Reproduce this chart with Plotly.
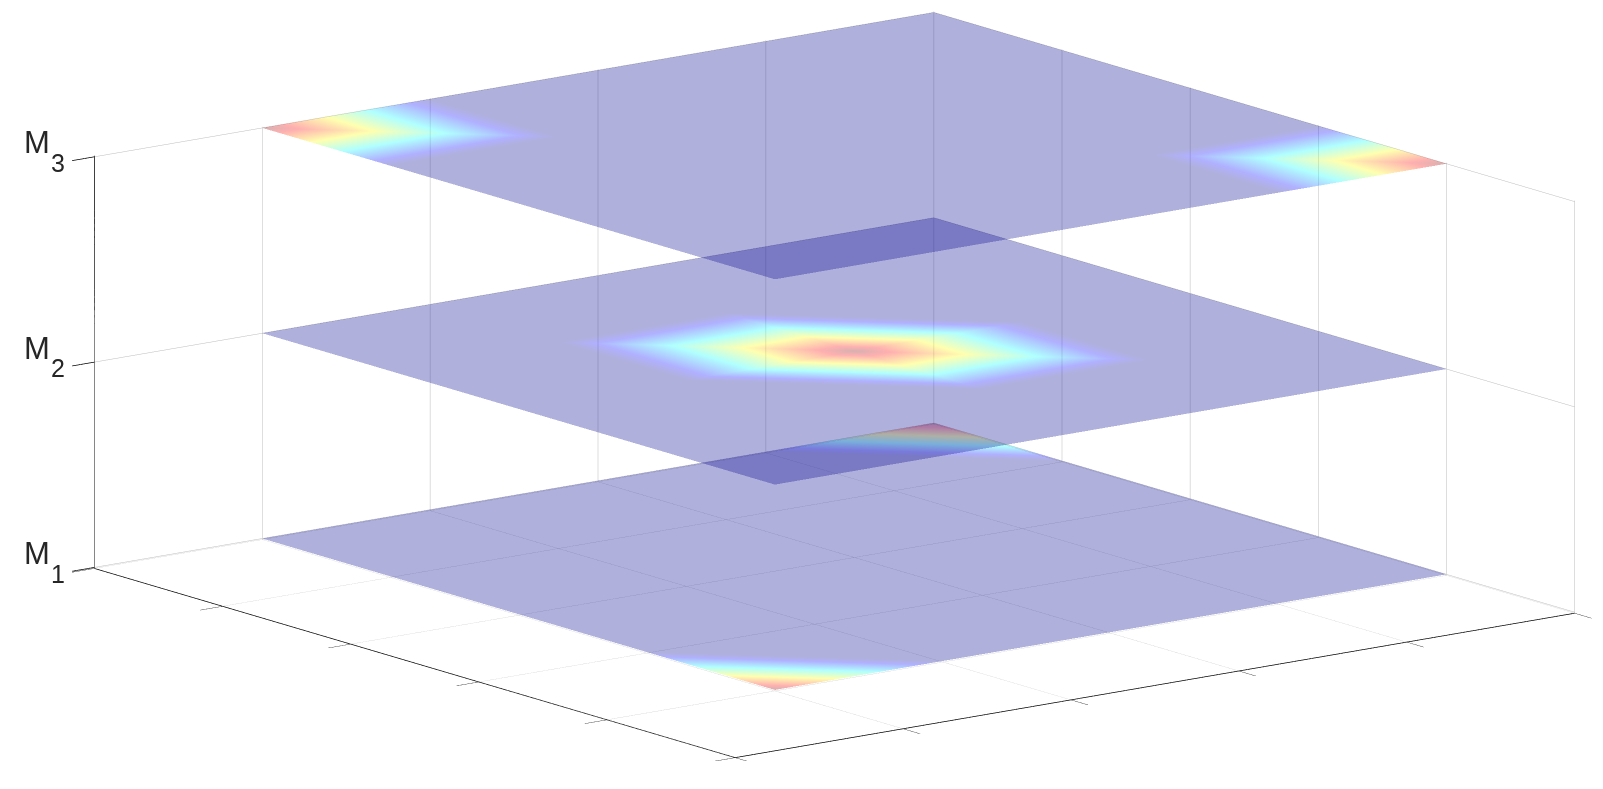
import plotly.graph_objects as go

# vertices of the 5x5 mesh
x_grid = [0, 1, 2, 3, 4]
y_grid = [1, 2, 3, 4, 5]
levels = [1, 2, 3]

# value per (x, y) vertex on each plane, rows are y
m1_values = [
    [0, 0, 0, 0, 1],
    [0, 0, 0, 0, 0],
    [0, 0, 0, 0, 0],
    [0, 0, 0, 0, 0],
    [1, 0, 0, 0, 0],
]
m2_values = [
    [0, 0, 0, 0, 0],
    [0, 0, 0, 0, 0],
    [0, 0, 1, 0, 0],
    [0, 0, 0, 0, 0],
    [0, 0, 0, 0, 0],
]
m3_values = [
    [1, 0, 0, 0, 0],
    [0, 0, 0, 0, 0],
    [0, 0, 0, 0, 0],
    [0, 0, 0, 0, 0],
    [0, 0, 0, 0, 1],
]
plane_values = [m1_values, m2_values, m3_values]

z_labels = ["1", "2", "3"]
xy_ticks = [0, 1, 2, 3, 4, 5]

jet = [
    [0.0, "rgb(0,0,143)"],
    [0.125, "rgb(0,0,255)"],
    [0.375, "rgb(0,255,255)"],
    [0.625, "rgb(255,255,0)"],
    [0.875, "rgb(255,0,0)"],
    [1.0, "rgb(128,0,0)"],
]

fig = go.Figure()

for level, values in zip(levels, plane_values):
    xs, ys, zs, vals = [], [], [], []
    for row, y in zip(values, y_grid):
        for v, x in zip(row, x_grid):
            xs.append(x)
            ys.append(y)
            zs.append(level)
            vals.append(v)
    i, j, k = [], [], []
    n = len(x_grid)
    for r in range(n - 1):
        for c in range(n - 1):
            a = r * n + c
            i += [a, a]
            j += [a + 1, a + n + 1]
            k += [a + n + 1, a + n]
    fig.add_trace(
        go.Mesh3d(
            x=xs, y=ys, z=zs, i=i, j=j, k=k,
            intensity=vals,
            intensitymode="vertex",
            colorscale=jet,
            cmin=0, cmax=1,
            opacity=0.31,
            showscale=False,
            flatshading=False,
            lighting=dict(ambient=1, diffuse=0, specular=0, roughness=1, fresnel=0),
            hoverinfo="skip",
        )
    )

grid_color = "rgb(188,188,188)"
line_color = "rgb(0,0,0)"
text_color = "rgb(38,38,38)"
flat_axis = dict(
    range=[0, 5],
    tickvals=xy_ticks,
    ticktext=[""] * len(xy_ticks),
    showgrid=True,
    gridcolor=grid_color,
    gridwidth=1,
    showline=True,
    linecolor=line_color,
    linewidth=1.5,
    ticks="outside",
    ticklen=28,
    tickcolor=line_color,
    tickwidth=1.5,
    showbackground=False,
    zeroline=False,
    title="",
    showspikes=False,
)

# the subscript sits lower than <sub> puts it, so M and the digit are separate texts
annotations = []
for level, label in zip(levels, z_labels):
    annotations.append(
        dict(
            x=0, y=0, z=level,
            text="M",
            showarrow=False,
            xanchor="right",
            yanchor="middle",
            xshift=-42,
            yshift=14,
            font=dict(family="Liberation Sans", size=31, color=text_color),
        )
    )
    annotations.append(
        dict(
            x=0, y=0, z=level,
            text=label,
            showarrow=False,
            xanchor="right",
            yanchor="middle",
            xshift=-27,
            yshift=-6,
            font=dict(family="Liberation Sans", size=25, color=text_color),
        )
    )

fig.update_layout(
    width=1603,
    height=789,
    margin=dict(l=0, r=0, t=0, b=0),
    paper_bgcolor="white",
    showlegend=False,
    scene=dict(
        domain=dict(x=[0.031, 1], y=[0.045, 1]),
        xaxis=flat_axis,
        yaxis=flat_axis,
        zaxis=dict(
            range=[0.995, 3.005],
            tickvals=levels,
            ticktext=[""] * len(levels),
            showgrid=True,
            gridcolor=grid_color,
            gridwidth=1,
            showline=True,
            linecolor=line_color,
            linewidth=1.5,
            ticks="outside",
            ticklen=28,
            tickcolor=line_color,
            tickwidth=1.5,
            showbackground=False,
            zeroline=False,
            title="",
            showspikes=False,
        ),
        aspectmode="manual",
        aspectratio=dict(x=2.805, y=2.805, z=1.125),
        camera=dict(
            projection=dict(type="orthographic"),
            center=dict(x=0, y=0, z=0),
            up=dict(x=0, y=0, z=1),
            eye=dict(x=0.7745 * 25, y=-0.5912 * 25, z=0.2254 * 25),
        ),
        annotations=annotations,
    ),
)

fig.write_html("out.html")
